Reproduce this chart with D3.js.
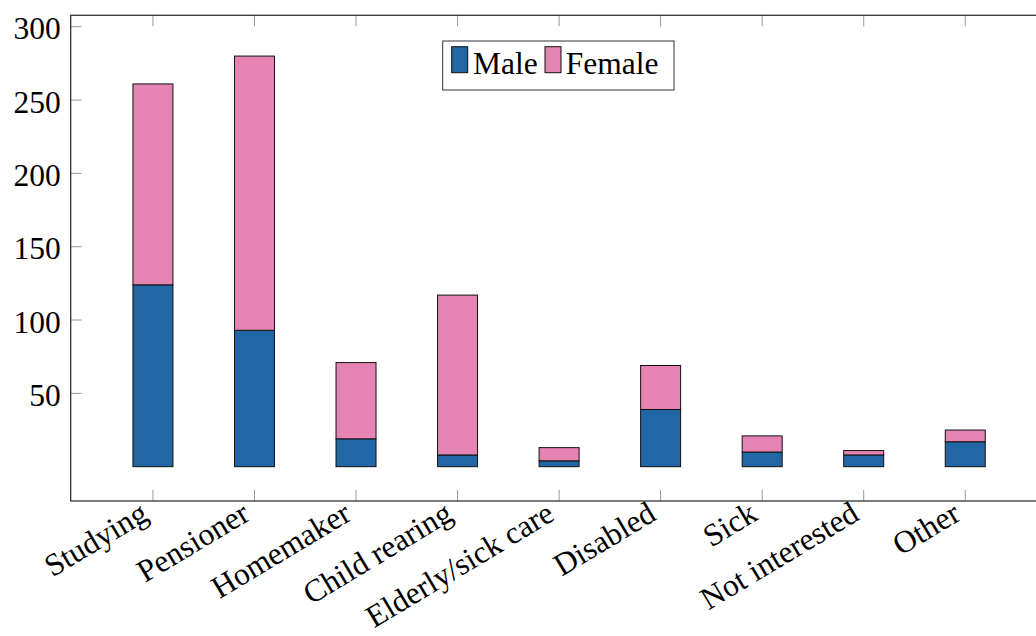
<!DOCTYPE html>
<html>
<head>
<meta charset="utf-8">
<script src="https://cdnjs.cloudflare.com/ajax/libs/d3/7.8.5/d3.min.js"></script>
<style>
  html, body { margin: 0; padding: 0; background: #fff; }
  svg { display: block; }
</style>
</head>
<body>
<svg id="chart" width="1036" height="636"></svg>
<script>
const categories = ["Studying", "Pensioner", "Homemaker", "Child rearing", "Elderly/sick care", "Disabled", "Sick", "Not interested", "Other"];
const maleValues = [124, 93, 19, 8, 4, 39, 10, 8, 17];
const femaleValues = [137, 187, 52, 109, 9, 30, 11, 3, 8];
const seriesNames = ["Male", "Female"];
const seriesColors = ["#2166a5", "#e584b2"];
const yTickValues = [50, 100, 150, 200, 250, 300];

(function () {
const FONT = "'Liberation Serif', 'Times New Roman', Times, 'DejaVu Serif', serif";
const svg = d3.select("#chart").attr("font-family", FONT);
const pLeft = 70.7, pRight = 1047.5, pTop = 15.3, pBottom = 501;
const fontSize = 31.5;

const x = d3.scaleLinear().domain([-0.81, categories.length - 1 + 0.81]).range([pLeft, pRight]);
const y = d3.scaleLinear().domain([-23.4, 307.8]).range([pBottom, pTop]);
const barW = 40;

const rows = categories.map((c, i) => ({ cat: c, i, Male: maleValues[i], Female: femaleValues[i] }));
const stacked = d3.stack().keys(seriesNames)(rows);

const idx = d3.range(categories.length);
const tickLen = 11;
const g = svg.append("g");
g.append("g").selectAll("line").data(idx).join("line")
  .attr("x1", d => x(d)).attr("x2", d => x(d))
  .attr("y1", pBottom).attr("y2", pBottom - tickLen)
  .attr("stroke", "#999").attr("stroke-width", 1);
g.append("g").selectAll("line").data(idx).join("line")
  .attr("x1", d => x(d)).attr("x2", d => x(d))
  .attr("y1", pTop).attr("y2", pTop + tickLen)
  .attr("stroke", "#999").attr("stroke-width", 1);
g.append("g").selectAll("line").data(yTickValues).join("line")
  .attr("x1", pLeft).attr("x2", pLeft + tickLen)
  .attr("y1", d => y(d)).attr("y2", d => y(d))
  .attr("stroke", "#999").attr("stroke-width", 1);

stacked.forEach((s, si) => {
  svg.append("g").selectAll("rect").data(s).join("rect")
    .attr("x", d => x(d.data.i) - barW / 2)
    .attr("width", barW)
    .attr("y", d => y(d[1]))
    .attr("height", d => y(d[0]) - y(d[1]))
    .attr("fill", seriesColors[si])
    .attr("stroke", "#111")
    .attr("stroke-width", 1);
});

svg.append("rect").attr("x", pLeft).attr("y", pTop)
  .attr("width", pRight - pLeft).attr("height", pBottom - pTop)
  .attr("fill", "none").attr("stroke", "#333").attr("stroke-width", 1.3);

svg.append("g").selectAll("text").data(yTickValues).join("text")
  .attr("x", pLeft - 10).attr("y", d => y(d))
  .attr("dy", "0.4em")
  .attr("text-anchor", "end")
  .attr("font-size", fontSize)
  .attr("fill", "#000")
  .text(d => d);

svg.append("g").selectAll("text").data(rows).join("text")
  .attr("transform", d => `translate(${x(d.i) - 3},${pBottom + 18}) rotate(-31)`)
  .attr("text-anchor", "end")
  .attr("font-size", fontSize)
  .attr("fill", "#000")
  .text(d => d.cat);

const lg = svg.append("g");
lg.append("rect").attr("x", 442.7).attr("y", 41).attr("width", 231.3).attr("height", 49)
  .attr("fill", "#fff").attr("stroke", "#333").attr("stroke-width", 1);
const legendItems = [
  { name: seriesNames[0], color: seriesColors[0], sx: 451.7, tx: 473 },
  { name: seriesNames[1], color: seriesColors[1], sx: 545, tx: 565.7 }
];
legendItems.forEach(it => {
  lg.append("rect").attr("x", it.sx).attr("y", 46.7).attr("width", 16).attr("height", 26)
    .attr("fill", it.color).attr("stroke", "#111").attr("stroke-width", 1);
  lg.append("text").attr("x", it.tx).attr("y", 73.5).attr("font-size", fontSize)
    .attr("fill", "#000").text(it.name);
});
})();
</script>
</body>
</html>
